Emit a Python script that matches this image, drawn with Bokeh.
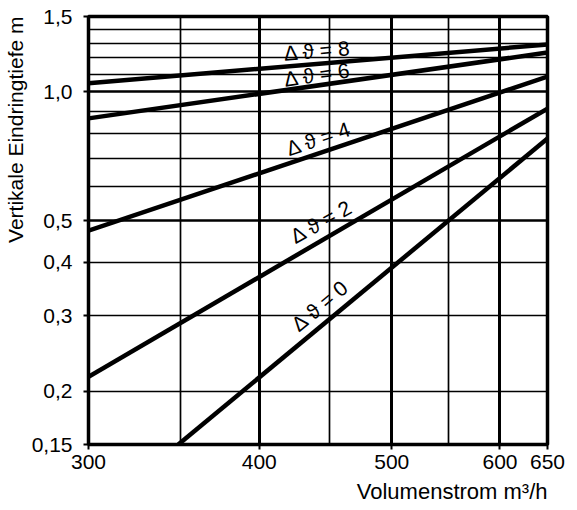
import math
from bokeh.plotting import figure
from bokeh.models import FixedTicker, Grid, Title, CustomJSTickFormatter, ColumnDataSource
from bokeh.core.properties import value
from bokeh.embed import file_html
from bokeh.resources import INLINE

# ---- data ----
x_ticks = [300, 400, 500, 600, 650]
y_ticks = [0.15, 0.2, 0.3, 0.4, 0.5, 1.0, 1.5]
x_grid_major = [400, 500, 600]
x_grid_minor = [350, 450, 550]
y_grid_major = [0.5, 1.0]
y_grid_minor = [0.2, 0.3, 0.4, 0.6, 0.7, 0.8, 0.9, 1.1, 1.2, 1.3, 1.4]

x_span = [300, 650]
d8 = [1.048, 1.29]
d6 = [0.867, 1.236]
d4 = [0.474, 1.086]
d2 = [0.216, 0.914]
x_d0 = [349, 650]
d0 = [0.15, 0.778]

label_texts = ["Δ ϑ = 8", "Δ ϑ = 6", "Δ ϑ = 4", "Δ ϑ = 2", "Δ ϑ = 0"]
label_x = [441, 441, 442, 444, 443]
label_y = [1.249, 1.098, 0.778, 0.498, 0.317]
label_angle_deg = [4.8, 8.2, 18.5, 29, 40]

FONT = "Liberation Sans"

p = figure(width=577, height=510, x_axis_type="log", y_axis_type="log",
           x_range=(300, 650), y_range=(0.15, 1.5),
           output_backend="svg", toolbar_location=None,
           min_border_left=87, min_border_right=30,
           min_border_top=16, min_border_bottom=66)
p.background_fill_color = "white"
p.border_fill_color = "white"
p.outline_line_color = "black"
p.outline_line_width = 3.5

# grids
p.xgrid.ticker = FixedTicker(ticks=x_grid_major)
p.xgrid.grid_line_color = "black"
p.xgrid.grid_line_width = 3
p.xgrid.grid_line_alpha = 1
p.ygrid.ticker = FixedTicker(ticks=y_grid_major)
p.ygrid.grid_line_color = "black"
p.ygrid.grid_line_width = 2.5
p.ygrid.grid_line_alpha = 1
p.add_layout(Grid(dimension=0, ticker=FixedTicker(ticks=x_grid_minor),
                  grid_line_color="black", grid_line_width=1.7))
p.add_layout(Grid(dimension=1, ticker=FixedTicker(ticks=y_grid_minor),
                  grid_line_color="black", grid_line_width=1.6))

# axes
for ax in (p.xaxis[0], p.yaxis[0]):
    ax.axis_line_color = "black"
    ax.axis_line_width = 3
    ax.major_tick_line_color = "black"
    ax.major_tick_line_width = 2
    ax.major_tick_out = 5
    ax.major_tick_in = 0
    ax.minor_tick_line_color = None
    ax.major_label_text_font = FONT
    ax.major_label_text_font_size = "21px"
    ax.major_label_text_color = "black"

p.xaxis[0].ticker = FixedTicker(ticks=x_ticks)
p.yaxis[0].ticker = FixedTicker(ticks=y_ticks)
p.xaxis[0].major_label_standoff = 5
p.yaxis[0].major_label_standoff = 11
p.xaxis[0].formatter = CustomJSTickFormatter(code="return tick.toFixed(0);")
p.yaxis[0].formatter = CustomJSTickFormatter(
    code="return (Math.abs(tick-0.15)<1e-9) ? '0,15' : tick.toFixed(1).replace('.', ',');")

# axis titles
p.add_layout(Title(text="Vertikale Eindringtiefe m", align="right",
                   text_font=FONT, text_font_size="21px", text_font_style="normal",
                   text_color="black", standoff=3), "left")
p.add_layout(Title(text="Volumenstrom m³/h", align="right",
                   text_font=FONT, text_font_size="22px", text_font_style="normal",
                   text_color="black", standoff=10), "below")

# curves
for ys, xs in ((d8, x_span), (d6, x_span), (d4, x_span), (d2, x_span), (d0, x_d0)):
    p.line(xs, ys, line_color="black", line_width=4.5)

src = ColumnDataSource(dict(x=label_x, y=label_y, t=label_texts,
                            a=[math.radians(v) for v in label_angle_deg]))
p.text(x="x", y="y", text="t", angle="a", source=src,
       text_align="center", text_baseline="middle",
       text_font=value(FONT), text_font_size="21px", text_color="black")

open("out.html", "w").write(file_html(p, INLINE))
